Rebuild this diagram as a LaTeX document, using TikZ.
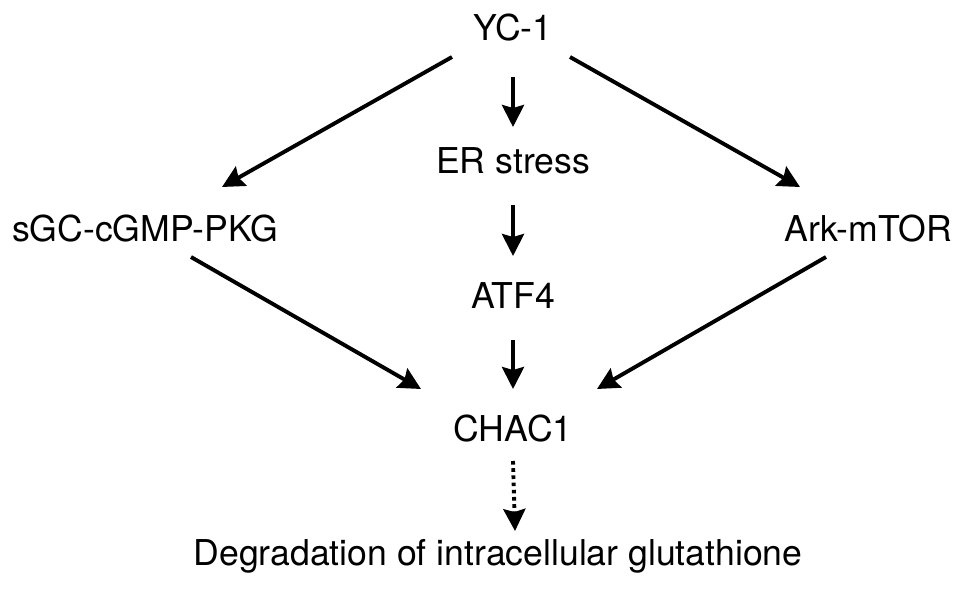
\documentclass[tikz,border=0pt]{standalone}
\usepackage{fontspec}
\setmainfont{TeX Gyre Heros}
\usetikzlibrary{arrows.meta}
\begin{document}
\begin{tikzpicture}[x=1pt,y=-1pt,
  lbl/.style={anchor=base,inner sep=0pt,font=\fontsize{35.6}{40}\selectfont},
  arr/.style={line width=3.9pt,-{Stealth[length=22pt,width=22pt,inset=3pt]}},
  dotarr/.style={line width=3.9pt,dash pattern=on 3.6pt off 3.6pt,-{Stealth[length=22pt,width=22pt,inset=3pt]}}]
\useasboundingbox (0,0) rectangle (969,589);
\node[lbl] (yc) at (513,40) {YC-1};
\node[lbl] (er) at (513,173) {ER stress};
\node[lbl] (sgc) at (145,241) {sGC-cGMP-PKG};
\node[lbl] (ark) at (868,241) {Ark-mTOR};
\node[lbl] (atf) at (513,308) {ATF4};
\node[lbl] (chac) at (513,441) {CHAC1};
\node[lbl] (deg) at (498,565) {Degradation of intracellular glutathione};
\draw[arr] ([shift={(-61,17)}]yc.base) -- ([shift={(77,-54)}]sgc.base);
\draw[arr] ([shift={(57,17)}]yc.base) -- ([shift={(-68,-54)}]ark.base);
\draw[arr] ([shift={(0,37)}]yc.base) -- ([shift={(0,-46)}]er.base);
\draw[arr] ([shift={(0,32)}]er.base) -- ([shift={(0,-52)}]atf.base);
\draw[arr] ([shift={(0,32)}]atf.base) -- ([shift={(0,-52)}]chac.base);
\draw[arr] ([shift={(46,16)}]sgc.base) -- ([shift={(-92,-52)}]chac.base);
\draw[arr] ([shift={(-42,16)}]ark.base) -- ([shift={(84,-52)}]chac.base);
\draw[dotarr] ([shift={(0,20)}]chac.base) -- ([shift={(17,-34)}]deg.base);
\end{tikzpicture}
\end{document}
